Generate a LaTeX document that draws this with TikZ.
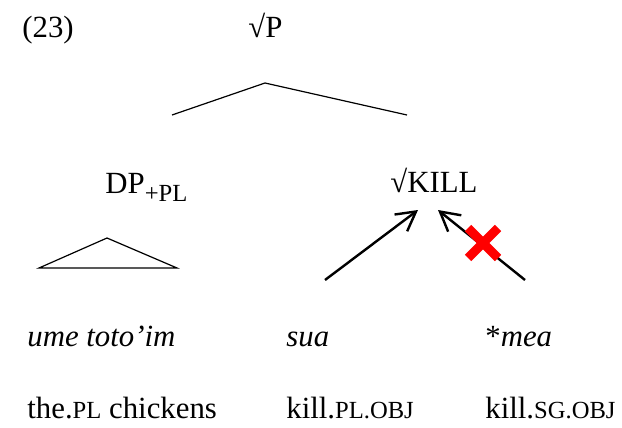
\documentclass[tikz,border=0pt]{standalone}
\usepackage{fontspec}
\setmainfont{Liberation Serif}
\usetikzlibrary{arrows.meta}
\newcommand{\glss}[1]{{\fontsize{12.3}{13}\selectfont #1}}

\begin{document}
\begin{tikzpicture}[x=.5pt,y=-.5pt,
    word/.style={anchor=base west,inner sep=0pt,font=\fontsize{15.4}{18}\selectfont},
    branch/.style={line width=.6pt},
    move/.style={line width=1.2pt,-{Straight Barb[length=9.5pt,width=10.5pt]}}]
  \useasboundingbox (0,0) rectangle (622,428);
  \node[word] (ex) at (22,38) {(23)};
  \node[word] (rootP) at (248,37) {√P};
  \node[word] (DP) at (105,193) {DP\raisebox{-4pt}{\glss{+PL}}};
  \node[word] (kill) at (390,192) {√KILL};
  % branch points of the tree, the DP triangle and the arrows
  \coordinate (top) at (265,83);
  \coordinate (left) at (172,115);
  \coordinate (right) at (407,115);
  \coordinate (tritop) at (107,238);
  \coordinate (trileft) at (39,268);
  \coordinate (triright) at (177,268);
  \coordinate (plfoot) at (325,280);
  \coordinate (plhead) at (418,210);
  \coordinate (sgfoot) at (525,280);
  \coordinate (sghead) at (438,210);
  \coordinate (cross) at (483,243);
  \draw[branch] (left) -- (top) -- (right);
  \draw[branch] (trileft) -- (tritop) -- (triright) -- cycle;
  \draw[move] (plfoot) -- (plhead);
  \draw[move] (sgfoot) -- (sghead);
  % the red cross on the SG arrow
  \draw[red,line width=4.5pt] (cross) ++(-15,-15) -- ++(30,30) (cross) ++(15,-15) -- ++(-30,30);
  % words and glosses, one column each
  \foreach \xx/\na/\wrd/\gls in {27/dp/{\itshape ume toto’im}/{the.\glss{PL} chickens},
      286/pl/{\itshape sua}/{kill.\glss{PL.OBJ}},
      485/sg/{*\textit{mea}}/{kill.\glss{SG.OBJ}}}{
    \node[word] (w\na) at (\xx,346) {\wrd};
    \node[word] (g\na) at (\xx,418) {\gls};};
\end{tikzpicture}
\end{document}
